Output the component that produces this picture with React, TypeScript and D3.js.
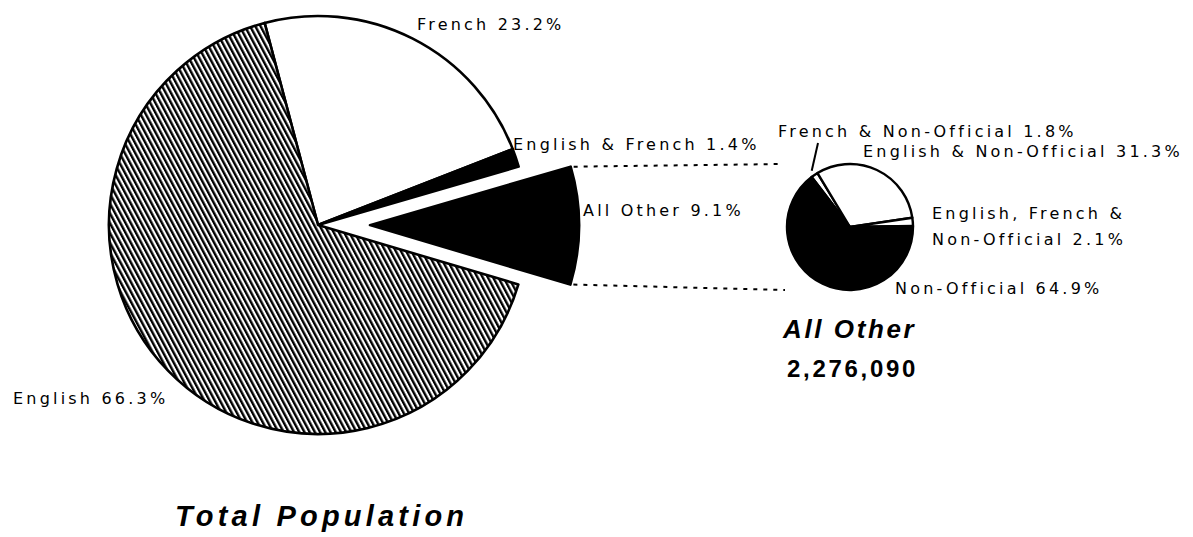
import React from "react";
import * as d3 from "d3";

// values
const mainCategories = ["French", "English & French", "All Other", "English"];
const mainValues = [23.2, 1.4, 9.1, 66.3];
const subCategories = [
  "French & Non-Official",
  "English & Non-Official",
  "English, French & Non-Official",
  "Non-Official",
];
const subValues = [1.8, 31.3, 2.1, 64.9];
const allOtherTotal = 2276090;
const mainTitle = "Total Population";
const subTitle = "All Other";

// layout
const W = 1193;
const H = 537;
const main = { cx: 318, cy: 225, r: 209, start: -14.8, explode: 52 };
const sub = { cx: 850, cy: 227, r: 63, start: -37.5 };

const mainFill: Record<string, string> = {
  French: "#fff",
  "English & French": "#000",
  "All Other": "#000",
  English: "url(#hatch)",
};
const subFill: Record<string, string> = {
  "French & Non-Official": "#fff",
  "English & Non-Official": "#fff",
  "English, French & Non-Official": "#fff",
  "Non-Official": "#000",
};

// label anchors (left x, baseline y)
const labelPos: Record<string, [number, number]> = {
  French: [417, 30],
  "English & French": [513, 150],
  "All Other": [583, 216],
  English: [13, 404],
  "French & Non-Official": [778, 137],
  "English & Non-Official": [863, 157],
  "English, French & Non-Official": [932, 219],
  "Non-Official": [895, 294],
};

const rad = (deg: number) => (deg * Math.PI) / 180;
const pct = (v: number) => `${v.toFixed(1)}%`;

const labelStyle: React.CSSProperties = {
  fontFamily: "'DejaVu Sans', sans-serif",
  fontSize: 16,
  letterSpacing: 3.2,
};

export default function App() {
  const mainPie = d3
    .pie<number>()
    .sort(null)
    .value((d) => d)
    .startAngle(rad(main.start))
    .endAngle(rad(main.start) + 2 * Math.PI);
  const subPie = d3
    .pie<number>()
    .sort(null)
    .value((d) => d)
    .startAngle(rad(sub.start))
    .endAngle(rad(sub.start) + 2 * Math.PI);

  const mainArcs = mainPie(mainValues);
  const subArcs = subPie(subValues);

  const mainArc = d3.arc<d3.PieArcDatum<number>>().innerRadius(0).outerRadius(main.r);
  const subArc = d3.arc<d3.PieArcDatum<number>>().innerRadius(0).outerRadius(sub.r);

  // exploded slice
  const exIdx = mainCategories.indexOf("All Other");
  const ex = mainArcs[exIdx];
  const exMid = (ex.startAngle + ex.endAngle) / 2;
  const exDx = main.explode * Math.sin(exMid);
  const exDy = -main.explode * Math.cos(exMid);
  const corner = (a: number): [number, number] => [
    main.cx + exDx + main.r * Math.sin(a),
    main.cy + exDy - main.r * Math.cos(a),
  ];
  const topCorner = corner(ex.startAngle);
  const botCorner = corner(ex.endAngle);

  // leader for the tiny French & Non-Official slice
  const fno = subArcs[0];
  const fnoMid = (fno.startAngle + fno.endAngle) / 2;
  const leadStart: [number, number] = [
    sub.cx + (sub.r + 5) * Math.sin(fnoMid),
    sub.cy - (sub.r + 5) * Math.cos(fnoMid),
  ];
  const fnoPos = labelPos["French & Non-Official"];
  const leadEnd: [number, number] = [fnoPos[0] + 40, fnoPos[1] + 6];

  return (
    <svg
      width={W}
      height={H}
      style={{ position: "absolute", left: 0, top: 0, background: "#fff" }}
    >
      <defs>
        <pattern
          id="hatch"
          width={4.6}
          height={10}
          patternUnits="userSpaceOnUse"
          patternTransform="rotate(-28)"
        >
          <rect width={4.6} height={10} fill="#fff" />
          <line x1={1.2} y1={0} x2={1.2} y2={10} stroke="#000" strokeWidth={2.4} />
        </pattern>
      </defs>

      {/* main pie */}
      <g transform={`translate(${main.cx},${main.cy})`}>
        {mainArcs.map((a, i) => {
          const exploded = i === exIdx;
          return (
            <path
              key={mainCategories[i]}
              d={mainArc(a) || ""}
              transform={exploded ? `translate(${exDx},${exDy})` : undefined}
              fill={mainFill[mainCategories[i]]}
              stroke="#000"
              strokeWidth={2.6}
              strokeLinejoin="round"
            />
          );
        })}
      </g>

      {/* connector lines */}
      <g stroke="#000" strokeWidth={2} strokeDasharray="4 6" fill="none">
        <line
          x1={topCorner[0] + 3}
          y1={topCorner[1]}
          x2={sub.cx - sub.r - 4}
          y2={sub.cy - sub.r}
        />
        <line
          x1={botCorner[0] + 3}
          y1={botCorner[1]}
          x2={sub.cx - sub.r - 2}
          y2={sub.cy + sub.r}
        />
      </g>

      {/* breakdown pie */}
      <g transform={`translate(${sub.cx},${sub.cy})`}>
        {subArcs.map((a, i) => (
          <path
            key={subCategories[i]}
            d={subArc(a) || ""}
            fill={subFill[subCategories[i]]}
            stroke="#000"
            strokeWidth={2.4}
            strokeLinejoin="round"
          />
        ))}
      </g>
      <line
        x1={leadStart[0]}
        y1={leadStart[1]}
        x2={leadEnd[0]}
        y2={leadEnd[1]}
        stroke="#000"
        strokeWidth={2}
      />

      {/* labels */}
      {mainCategories.map((c, i) => (
        <text key={c} x={labelPos[c][0]} y={labelPos[c][1]} style={labelStyle}>
          {`${c} ${pct(mainValues[i])}`}
        </text>
      ))}
      {subCategories.map((c, i) => {
        const [x, y] = labelPos[c];
        if (c === "English, French & Non-Official") {
          return (
            <text key={c} x={x} y={y} style={labelStyle}>
              <tspan x={x}>English, French &amp;</tspan>
              <tspan x={x} dy={26}>{`Non-Official ${pct(subValues[i])}`}</tspan>
            </text>
          );
        }
        return (
          <text key={c} x={x} y={y} style={labelStyle}>
            {`${c} ${pct(subValues[i])}`}
          </text>
        );
      })}

      {/* titles */}
      <text
        x={783}
        y={338}
        style={{
          fontFamily: "'Liberation Sans', Arial, sans-serif",
          fontWeight: 700,
          fontStyle: "italic",
          fontSize: 26,
          letterSpacing: 2.6,
        }}
      >
        {subTitle}
      </text>
      <text
        x={787}
        y={377}
        style={{
          fontFamily: "'Liberation Sans', Arial, sans-serif",
          fontWeight: 700,
          fontSize: 24,
          letterSpacing: 2.7,
        }}
      >
        {d3.format(",")(allOtherTotal)}
      </text>
      <text
        x={175}
        y={526}
        style={{
          fontFamily: "'Liberation Sans', Arial, sans-serif",
          fontWeight: 700,
          fontStyle: "italic",
          fontSize: 29,
          letterSpacing: 4.2,
        }}
      >
        {mainTitle}
      </text>
    </svg>
  );
}
